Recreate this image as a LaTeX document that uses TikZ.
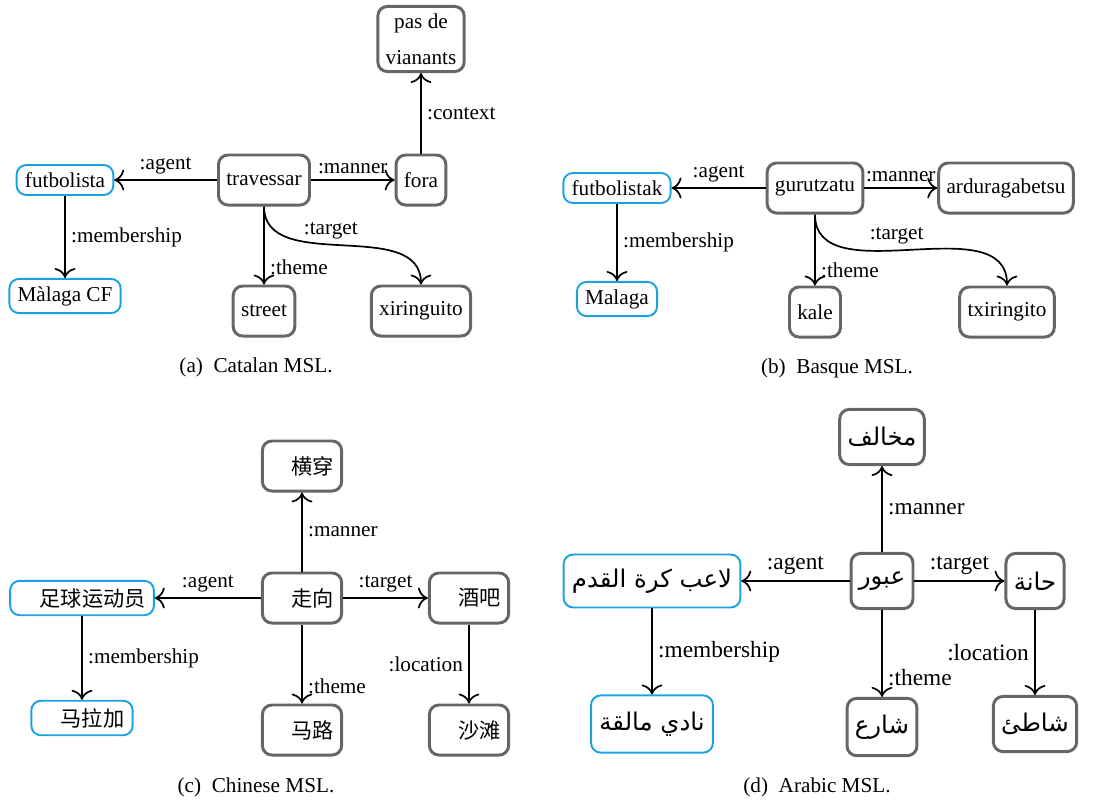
\documentclass[tikz,border=0pt]{standalone}
\usepackage{fontspec}
\setmainfont{Liberation Serif}
\newfontfamily\cjk{Noto Sans CJK SC}
\newfontfamily\arabicfont[Script=Arabic]{DejaVu Sans}
\TeXXeTstate=1
\usetikzlibrary{arrows.meta}

\definecolor{conceptgray}{HTML}{666666}
\definecolor{entityblue}{HTML}{1BA1E2}

\newcommand{\zh}[1]{{\cjk\hspace{1em}#1}}
\newcommand{\arab}[1]{{\arabicfont\fontsize{11.5}{14}\selectfont\beginR #1\endR}}

\tikzset{
  concept/.style={draw=conceptgray, line width=1.4pt, rounded corners=4.5pt, fill=white, inner xsep=3.7pt, minimum height=23.6pt},
  entity/.style={draw=entityblue, line width=0.9pt, rounded corners=4.5pt, fill=white, inner xsep=3.9pt, inner ysep=3.5pt},
  role/.style={-{To[scale=1.4]}, thick},
  lab/.style={inner sep=2.5pt}
}

\begin{document}
\begin{tikzpicture}[x=0.4717pt, y=-0.4717pt] % pixel grid, y pointing down
  \useasboundingbox (0,0) rectangle (1097,801);

  % (a) Catalan MSL
  \node[concept] (tra) at (264,180) {travessar};
  \node[concept] (fora) at (421,180) {fora};
  \node[concept, align=center] (pas) at (421,39) {pas de\\[5pt]vianants};
  \node[entity] (fut) at (65,180) {futbolista};
  \node[entity] (mal) at (65,296) {Màlaga CF};
  \node[concept] (str) at (264,311) {street};
  \node[concept] (xir) at (421,311) {xiringuito};
  \draw[role] (tra) -- node[lab, above] {:agent} (fut);
  \draw[role] (tra) -- node[lab, above] {:manner} (fora);
  \draw[role] (fora) -- node[lab, right] {:context} (pas);
  \draw[role] (fut) -- node[lab, right] {:membership} (mal);
  \draw[role] (tra) -- node[lab, right, pos=0.78] {:theme} (str);
  \draw[role] (tra.south) to[out=-90, in=90] node[lab, above, pos=0.45] {:target} (xir.north);
  \node (capa) at (256,367) {(a)\enspace Catalan MSL.};

  % (b) Basque MSL
  \node[concept] (gur) at (815,188) {gurutzatu};
  \node[concept] (ard) at (1006,188) {arduragabetsu};
  \node[entity] (futk) at (617,188) {futbolistak};
  \node[entity] (mala) at (617,299) {Malaga};
  \node[concept] (kale) at (815,312) {kale};
  \node[concept] (txi) at (1007,312) {txiringito};
  \draw[role] (gur) -- node[lab, above] {:agent} (futk);
  \draw[role] (gur) -- node[lab, above] {:manner} (ard);
  \draw[role] (futk) -- node[lab, right] {:membership} (mala);
  \draw[role] (gur) -- node[lab, right, pos=0.78] {:theme} (kale);
  \draw[role] (gur.south) to[out=-90, in=90] node[lab, above, pos=0.45] {:target} (txi.north);
  \node (capb) at (837,368) {(b)\enspace Basque MSL.};

  % (c) Chinese MSL
  \node[concept] (zx) at (302,598) {\zh{走向}};
  \node[concept] (hc) at (302,466) {\zh{横穿}};
  \node[concept] (jb) at (469,598) {\zh{酒吧}};
  \node[entity] (zq) at (82,598) {\zh{足球运动员}};
  \node[entity] (mlj) at (82,718) {\zh{马拉加}};
  \node[concept] (ml) at (302,730) {\zh{马路}};
  \node[concept] (st) at (469,730) {\zh{沙滩}};
  \draw[role] (zx) -- node[lab, right] {:manner} (hc);
  \draw[role] (zx) -- node[lab, above] {:agent} (zq);
  \draw[role] (zx) -- node[lab, above] {:target} (jb);
  \draw[role] (zq) -- node[lab, right] {:membership} (mlj);
  \draw[role] (zx) -- node[lab, right, pos=0.78] {:theme} (ml);
  \draw[role] (jb) -- node[lab, left] {:location} (st);
  \node (capc) at (256,787) {(c)\enspace Chinese MSL.};

  % (d) Arabic MSL
  \begin{scope}[every node/.append style={font=\fontsize{11}{13}\selectfont}]
    \node[concept, minimum height=26pt] (ubur) at (882,581) {\arab{عبور}};
    \node[concept, minimum height=26pt] (mukh) at (882,437) {\arab{مخالف}};
    \node[concept, minimum height=26pt] (hana) at (1035,581) {\arab{حانة}};
    \node[entity, minimum height=25pt] (laib) at (652,581) {\arab{لاعب كرة القدم}};
    \node[entity, minimum height=27pt] (nadi) at (652,724) {\arab{نادي مالقة}};
    \node[concept, minimum height=27pt] (shar) at (882,727) {\arab{شارع}};
    \node[concept, minimum height=26pt] (shat) at (1035,724) {\arab{شاطئ}};
    \draw[role] (ubur) -- node[lab, right] {:manner} (mukh);
    \draw[role] (ubur) -- node[lab, above] {:agent} (laib);
    \draw[role] (ubur) -- node[lab, above] {:target} (hana);
    \draw[role] (laib) -- node[lab, right] {:membership} (nadi);
    \draw[role] (ubur) -- node[lab, right, pos=0.78] {:theme} (shar);
    \draw[role] (hana) -- node[lab, left] {:location} (shat);
  \end{scope}
  \node (capd) at (817,787) {(d)\enspace Arabic MSL.};
\end{tikzpicture}
\end{document}
